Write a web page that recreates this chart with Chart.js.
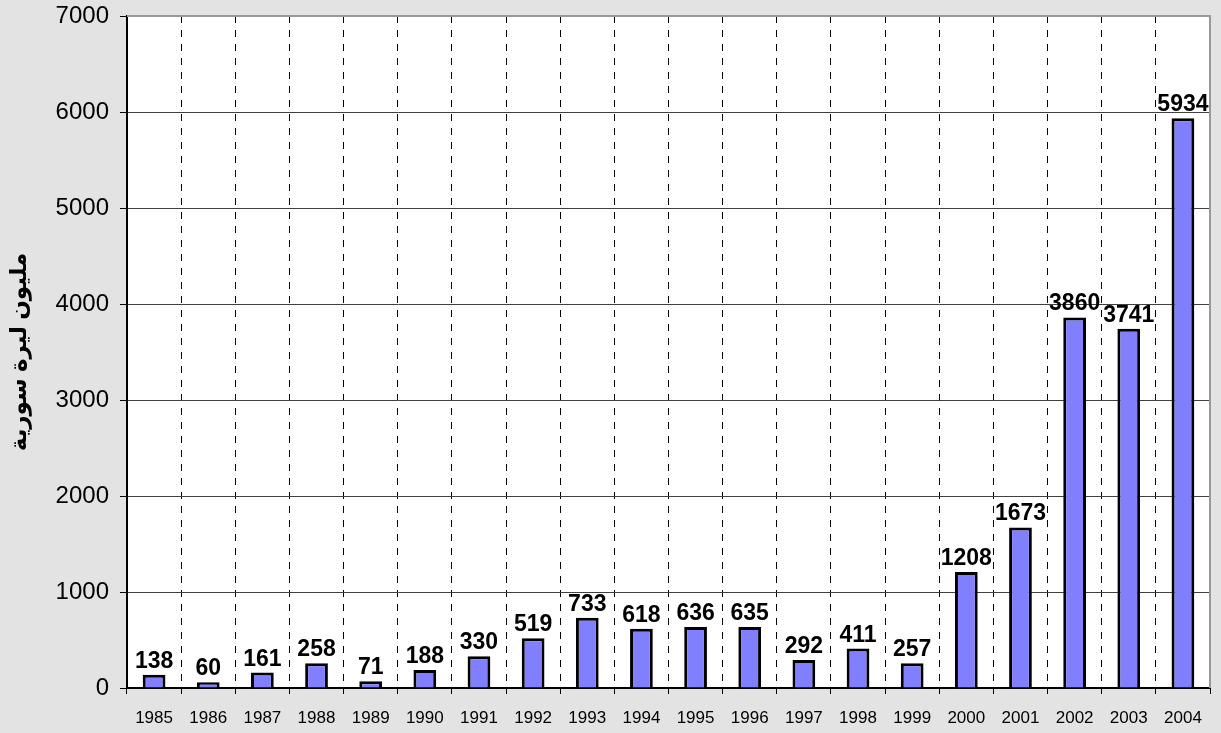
<!DOCTYPE html>
<html><head><meta charset="utf-8">
<script src="https://cdn.jsdelivr.net/npm/chart.js@4.4.0/dist/chart.umd.min.js"></script>
<style>html,body{margin:0;padding:0;background:#e3e3e3;}#wrap{width:1221px;height:733px;}</style>
</head><body><div id="wrap"><canvas id="c" width="1221" height="733"></canvas></div>
<script>
const years = ['1985','1986','1987','1988','1989','1990','1991','1992','1993','1994','1995','1996','1997','1998','1999','2000','2001','2002','2003','2004'];
const values = [138,60,161,258,71,188,330,519,733,618,636,635,292,411,257,1208,1673,3860,3741,5934];
const yTicks = [0,1000,2000,3000,4000,5000,6000,7000];
const yTitle = 'مليون ليرة سورية';
const FONT = '"Liberation Sans", Arial, "DejaVu Sans", sans-serif';

const bgPlugin = {
  id:'bg',
  beforeDraw(chart){
    const {ctx, chartArea:a} = chart;
    ctx.save();
    ctx.fillStyle = '#e3e3e3';
    ctx.fillRect(0,0,chart.width,chart.height);
    ctx.fillStyle = '#ffffff';
    ctx.fillRect(a.left,a.top,a.right-a.left,a.bottom-a.top);
    ctx.restore();
  },
  afterDatasetsDraw(chart){
    const {ctx, chartArea:a} = chart;
    ctx.save();
    ctx.strokeStyle = '#999999';
    ctx.lineWidth = 2;
    ctx.beginPath();
    ctx.moveTo(a.left, a.top);
    ctx.lineTo(a.right, a.top);
    ctx.lineTo(a.right, a.bottom);
    ctx.stroke();
    const meta = chart.getDatasetMeta(0);
    ctx.fillStyle = '#000';
    ctx.font = 'bold 23px ' + FONT;
    ctx.textAlign = 'center';
    ctx.textBaseline = 'alphabetic';
    meta.data.forEach((el,i)=>{
      ctx.fillText(String(values[i]), el.x, el.y - 7);
    });
    ctx.restore();
  }
};

new Chart(document.getElementById('c'), {
  type:'bar',
  data:{labels:years, datasets:[{data:values, backgroundColor:'#8080ff', borderColor:'#000000', borderWidth:3, barPercentage:0.42, categoryPercentage:1}]},
  options:{
    responsive:false, animation:false, devicePixelRatio:1,
    layout:{padding:{top:16,right:11,left:0,bottom:0}},
    plugins:{legend:{display:false}, tooltip:{enabled:false}},
    scales:{
      x:{
        offset:true,
        grid:{offset:true, color:'#000000', lineWidth:1, tickLength:6, tickColor:'#000', tickBorderDash:[], drawOnChartArea:true},
        border:{display:true, color:'#000', width:2, dash:[7,7]},
        ticks:{font:{family:FONT, size:17}, color:'#000', padding:14, maxRotation:0, autoSkip:false},
        afterFit(s){ s.height = 45; s.paddingLeft = 0; s.paddingRight = 0; }
      },
      y:{
        min:0, max:7000,
        afterBuildTicks(s){ s.ticks = yTicks.map(v=>({value:v})); },
        ticks:{font:{family:FONT, size:24}, color:'#000', padding:11, callback:(v)=>String(v)},
        grid:{color:(c)=> c.tick && c.tick.value===7000 ? 'rgba(0,0,0,0)' : '#404040', lineWidth:1, tickLength:7, tickColor:'#000'},
        border:{display:true, color:'#000', width:2},
        title:{display:true, text:yTitle, font:{family:FONT, size:23, weight:'bold'}, color:'#000', padding:{top:6,bottom:0}},
        afterFit(s){ s.width = 127; s.paddingTop = 0; s.paddingBottom = 0; }
      }
    }
  },
  plugins:[bgPlugin]
});
</script></body></html>
